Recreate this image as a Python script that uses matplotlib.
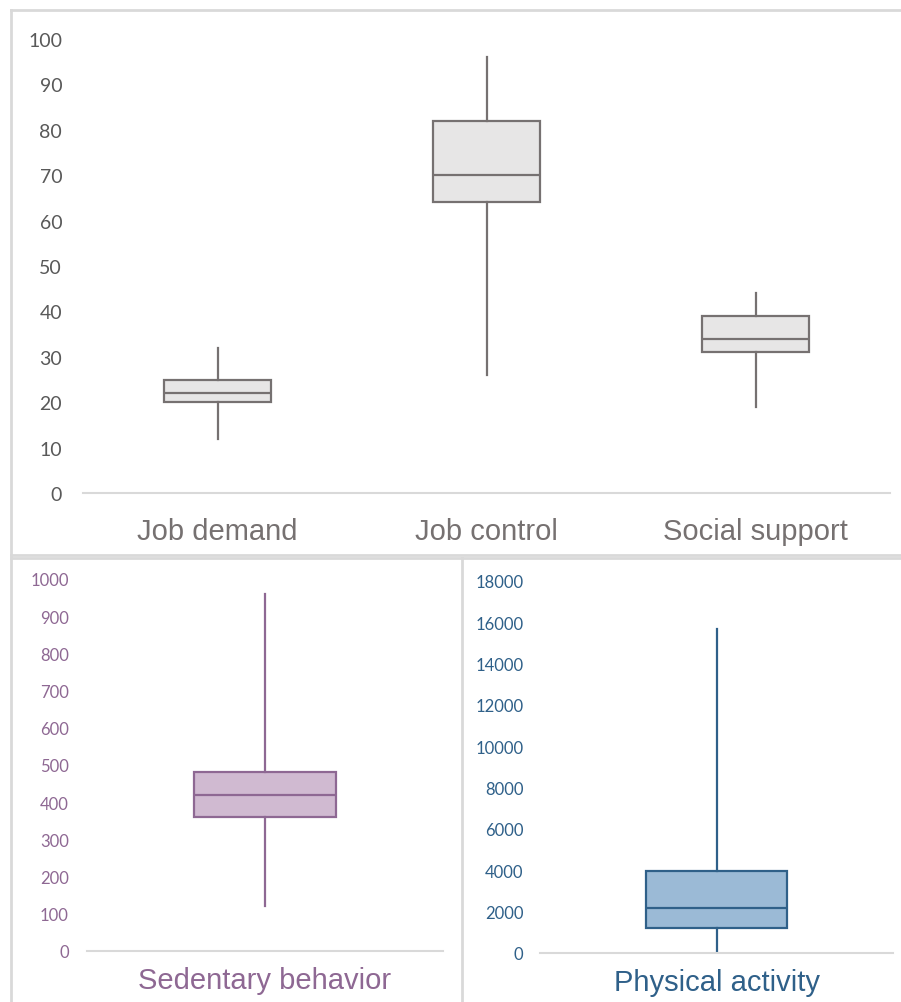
import matplotlib.pyplot as plt
from matplotlib.lines import Line2D

# work stress scores
stress_labels = ['Job demand', 'Job control', 'Social support']
stress_low = [12, 26, 19]
stress_q1 = [20, 64, 31]
stress_med = [22, 70, 34]
stress_q3 = [25, 82, 39]
stress_high = [32, 96, 44]

# sedentary behaviour (min/day)
sed_label = 'Sedentary behavior'
sed_stats = [120, 360, 420, 480, 960]

# physical activity
pa_label = 'Physical activity'
pa_stats = [0, 1200, 2200, 3950, 15700]

W, H = 901, 1003
fig = plt.figure(figsize=(W / 100, H / 100), dpi=100)


def px_axes(x0, x1, ytop, ybot):
    return fig.add_axes([x0 / W, 1 - ybot / H, (x1 - x0) / W, (ybot - ytop) / H])


def make_stats(labels, lo, q1, med, q3, hi):
    return [dict(label=l, whislo=a, q1=b, med=c, q3=d, whishi=e, fliers=[])
            for l, a, b, c, d, e in zip(labels, lo, q1, med, q3, hi)]


def draw_box(ax, stats, fill, edge, tick_col, lab_col, tick_size, tick_pad, lab_pad):
    n = len(stats)
    line = dict(color=edge, linewidth=1.6)
    ax.bxp(stats, positions=range(1, n + 1), widths=0.4, showcaps=False,
           showfliers=False, patch_artist=True,
           boxprops=dict(facecolor=fill, edgecolor=edge, linewidth=1.6),
           whiskerprops=line, medianprops=line)
    ax.set_xlim(0.5, n + 0.5)
    for s in ['top', 'right', 'left']:
        ax.spines[s].set_visible(False)
    ax.spines['bottom'].set_color('#D9D9D9')
    ax.spines['bottom'].set_linewidth(1.5)
    ax.tick_params(axis='y', length=0, pad=tick_pad, labelsize=tick_size, labelcolor=tick_col)
    ax.tick_params(axis='x', length=0, pad=lab_pad, labelsize=21, labelcolor=lab_col)
    for t in ax.get_yticklabels():
        t.set_fontfamily('Lato')
    for t in ax.get_xticklabels():
        t.set_fontfamily('Liberation Sans')


ax1 = px_axes(83, 890, 40, 494)
draw_box(ax1, make_stats(stress_labels, stress_low, stress_q1, stress_med, stress_q3, stress_high),
         '#E7E6E6', '#767171', '#595959', '#767171', 14, 15, 17)
ax1.set_ylim(0, 100)
ax1.set_yticks(range(0, 101, 10))

ax2 = px_axes(87, 443, 580, 952)
draw_box(ax2, make_stats([sed_label], *[[v] for v in sed_stats]),
         '#D0BAD1', '#8E6893', '#8E6893', '#8E6893', 12, 13, 11)
ax2.set_ylim(0, 1000)
ax2.set_yticks(range(0, 1001, 100))

ax3 = px_axes(540, 893, 582, 954)
draw_box(ax3, make_stats([pa_label], *[[v] for v in pa_stats]),
         '#9BBAD6', '#2F6089', '#2F6089', '#2F6089', 12, 12, 11)
ax3.set_ylim(0, 18000)
ax3.set_yticks(range(0, 18001, 2000))

# panel frames
frame = dict(color='#D9D9D9', linewidth=2)
for x0, y0, x1, y1 in [(11, 11, 901, 11), (11, 11, 11, 556), (11, 556, 901, 556),
                       (11, 559, 901, 559), (11, 559, 11, 1003), (462, 559, 462, 1003)]:
    fig.add_artist(Line2D([x0 / W, x1 / W], [1 - y0 / H, 1 - y1 / H], **frame))

fig.savefig('out.png', dpi=100)
